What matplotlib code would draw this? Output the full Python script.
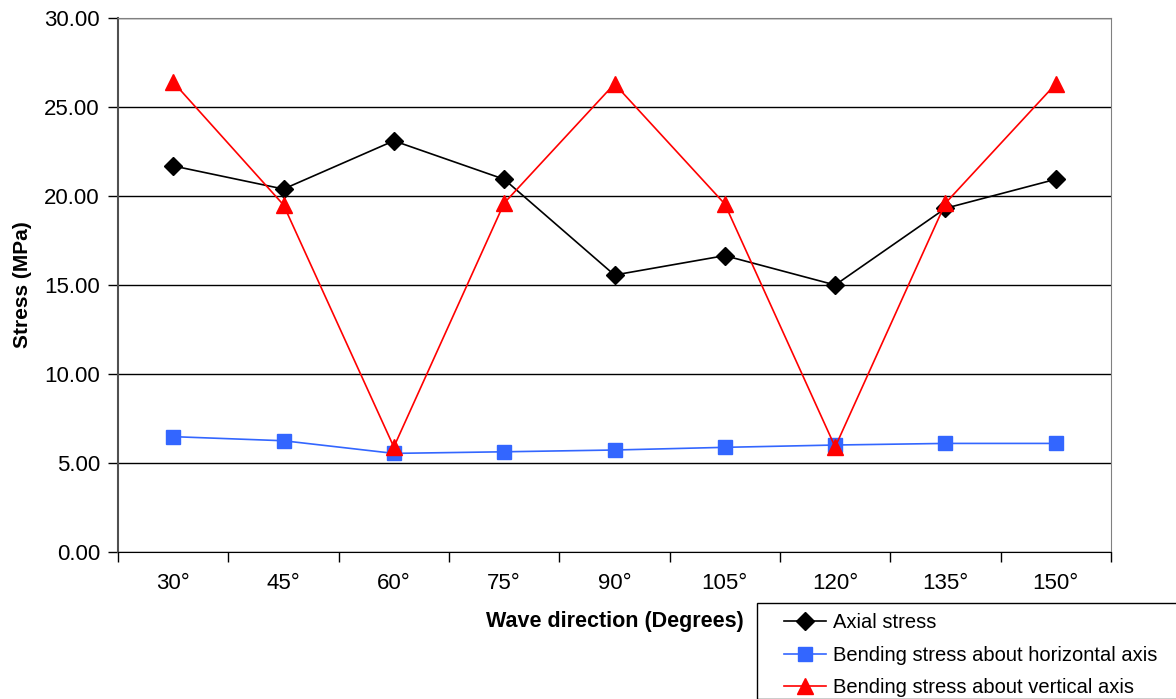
#Wave direction vs stress chart
import numpy as np
import matplotlib.pyplot as plt
from matplotlib.patches import Rectangle

#DATA
directions = ["30°", "45°", "60°", "75°", "90°", "105°", "120°", "135°", "150°"]
axial = [21.69, 20.39, 23.10, 20.94, 15.56, 16.65, 15.00, 19.31, 20.94]
bending_horizontal = [6.48, 6.25, 5.54, 5.63, 5.73, 5.88, 6.01, 6.10, 6.10]
bending_vertical = [26.40, 19.50, 5.90, 19.60, 26.30, 19.55, 5.90, 19.60, 26.30]

plt.rcParams['font.family'] = ['Liberation Sans', 'DejaVu Sans']

fig = plt.figure(figsize=(11.76, 6.99), dpi=100)
ax = fig.add_axes([118/1176, 1 - 552/699, (1111 - 118)/1176, (552 - 18)/699])

x = np.arange(len(directions))
ax.plot(x, axial, color="black", lw=1.2, marker="D", ms=9, label="Axial stress")
ax.plot(x, bending_horizontal, color="#3366ff", lw=1.2, marker="s", ms=10,
        label="Bending stress about horizontal axis")
ax.plot(x, bending_vertical, color="red", lw=1.2, marker="^", ms=12,
        label="Bending stress about vertical axis")

#axes and grid
ax.set_xlim(-0.5, len(directions) - 0.5)
ax.set_ylim(0, 30)
ax.set_yticks(np.arange(0, 30.1, 5))
ax.set_yticklabels(["%.2f" % v for v in np.arange(0, 30.1, 5)])
ax.set_xticks(x)
ax.set_xticklabels(directions)
ax.set_xticks(np.arange(-0.5, len(directions)), minor=True)
ax.tick_params(axis="x", which="major", length=0, pad=15, labelsize=16)
ax.tick_params(axis="x", which="minor", length=7, width=1, direction="out")
ax.tick_params(axis="y", length=7, width=1, direction="out", labelsize=16, pad=6)
ax.grid(axis="y", color="black", lw=1)
ax.set_axisbelow(True)
for side in ["top", "right"]:
    ax.spines[side].set_color("#808080")
ax.spines["left"].set_color("#505050")
ax.spines["left"].set_linewidth(1.5)
ax.spines["bottom"].set_color("black")

ax.set_xlabel("Wave direction (Degrees)", fontsize=15.5, fontweight="bold", labelpad=12)
ax.set_ylabel("Stress (MPa)", fontsize=15, fontweight="bold", labelpad=9)

#legend box runs off the bottom right corner like in the original
fig.patches.append(Rectangle((757/1176, 0), 0.5, 1 - 603/699, transform=fig.transFigure,
                             facecolor="white", edgecolor="black", lw=1, zorder=0))
fig.legend(loc="upper left", bbox_to_anchor=(784/1176, 1 - 613/699),
           fontsize=14.5, frameon=False, handlelength=2.1,
           borderpad=0, labelspacing=0.68, handletextpad=0.35, borderaxespad=0)

fig.savefig("out.png", dpi=100)
